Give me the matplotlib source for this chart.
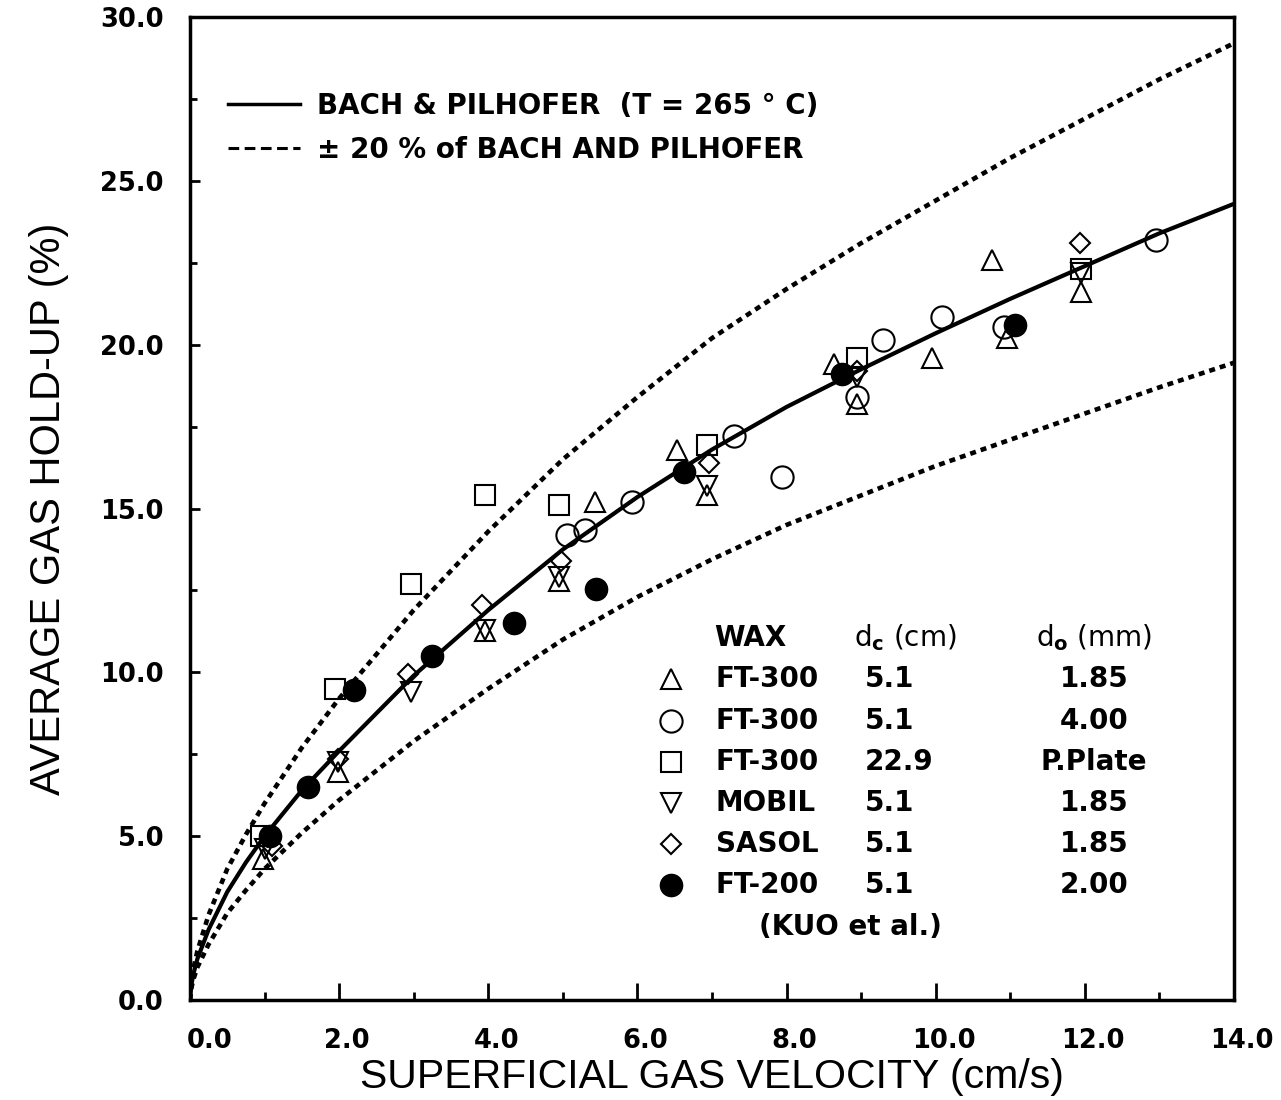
import matplotlib.pyplot as plt
import matplotlib.transforms as mtransforms
from matplotlib.lines import Line2D
from matplotlib.ticker import MultipleLocator

plt.rcParams['font.family'] = ['DejaVu Sans']
plt.rcParams['mathtext.fontset'] = 'custom'
plt.rcParams['mathtext.rm'] = 'DejaVu Sans:bold'
plt.rcParams['mathtext.default'] = 'rm'

# Bach & Pilhofer correlation
u_curve = [0, 0.02, 0.05, 0.1, 0.25, 0.5, 0.75, 1, 1.5, 2, 3, 4, 5, 6, 7, 8, 9,
           10, 11, 12, 13, 14]
bp_mid = [0, 0.48, 0.83, 1.26, 2.15, 3.3, 4.2, 5.0, 6.4, 7.6, 9.9, 11.9, 13.75, 15.35,
          16.8, 18.1, 19.25, 20.35, 21.4, 22.4, 23.4, 24.3]
bp_up = [0, 0.6, 1.0, 1.5, 2.6, 4.0, 5.05, 6.0, 7.7, 9.2, 11.9, 14.3, 16.5, 18.4,
         20.2, 21.7, 23.1, 24.4, 25.7, 26.9, 28.1, 29.2]
bp_low = [0, 0.38, 0.66, 1.0, 1.7, 2.65, 3.35, 4.0, 5.1, 6.1, 7.9, 9.5, 11.0, 12.3,
          13.45, 14.5, 15.4, 16.3, 17.1, 17.9, 18.7, 19.45]

# measured points
tri_up_x = [0.98, 1.98, 3.95, 4.95, 5.43, 6.53, 6.93, 8.63, 8.94, 9.95, 10.75, 10.95, 11.95]
tri_up_y = [4.3, 6.95, 11.25, 12.8, 15.2, 16.8, 15.4, 19.4, 18.2, 19.6, 22.6, 20.2, 21.6]
circ_x = [5.06, 5.3, 5.93, 7.3, 7.94, 8.94, 9.3, 10.08, 10.92, 12.96]
circ_y = [14.2, 14.35, 15.2, 17.2, 15.95, 18.4, 20.15, 20.85, 20.55, 23.2]
sq_x = [0.95, 1.95, 2.96, 3.95, 4.95, 6.93, 8.94, 11.95]
sq_y = [5.0, 9.5, 12.7, 15.4, 15.1, 16.95, 19.6, 22.3]
tri_dn_x = [1.0, 1.98, 2.96, 3.95, 4.95, 6.93, 8.94, 11.95]
tri_dn_y = [4.6, 7.25, 9.4, 11.3, 12.9, 15.7, 19.0, 22.2]
dia_x = [1.1, 1.98, 2.92, 3.92, 4.97, 6.96, 8.94, 11.93]
dia_y = [4.7, 7.35, 9.95, 12.05, 13.4, 16.4, 19.2, 23.1]
ft200_x = [1.07, 1.58, 2.2, 3.25, 4.35, 5.45, 6.63, 8.74, 11.06]
ft200_y = [5.0, 6.5, 9.45, 10.5, 11.5, 12.55, 16.1, 19.1, 20.6]

x_ticks = [0, 2, 4, 6, 8, 10, 12, 14]
wax_names = ['FT-300', 'FT-300', 'FT-300', 'MOBIL', 'SASOL', 'FT-200']
dc_vals = ['5.1', '5.1', '22.9', '5.1', '5.1', '5.1']
do_vals = ['1.85', '4.00', 'P.Plate', '1.85', '1.85', '2.00']

fig = plt.figure(figsize=(12.81, 11.0), dpi=100)
ax = fig.add_axes([0.1483, 0.0909, 0.815, 0.8936])

dash = (0, (1.3, 1.1))
ax.plot(u_curve, bp_up, color='black', lw=3.3, linestyle=dash, zorder=3)
ax.plot(u_curve, bp_low, color='black', lw=3.3, linestyle=dash, zorder=3)
ax.plot(u_curve, bp_mid, color='black', lw=3.0, zorder=4)

mk = dict(linestyle='none', markerfacecolor='none', markeredgecolor='black',
          markeredgewidth=1.5, zorder=5)
ax.plot(tri_up_x, tri_up_y, marker='^', ms=15, **mk)
ax.plot(circ_x, circ_y, marker='o', ms=16, **mk)
ax.plot(sq_x, sq_y, marker='s', ms=15, **mk)
ax.plot(tri_dn_x, tri_dn_y, marker='v', ms=15, **mk)
ax.plot(dia_x, dia_y, marker='D', ms=10.5, **mk)
ax.plot(ft200_x, ft200_y, marker='o', ms=16, linestyle='none', color='black', zorder=6)

ax.set_xlim(0, 14)
ax.set_ylim(0, 30)
ax.set_xticks(x_ticks)
ax.xaxis.set_minor_locator(MultipleLocator(1))
ax.yaxis.set_major_locator(MultipleLocator(5))
ax.yaxis.set_minor_locator(MultipleLocator(2.5))
ax.xaxis.set_major_formatter(plt.FormatStrFormatter('%.1f'))
ax.yaxis.set_major_formatter(plt.FormatStrFormatter('%.1f'))
ax.tick_params(axis='x', which='major', direction='in', length=12, width=2, labelsize=18.5, pad=20)
ax.tick_params(axis='x', which='minor', direction='in', length=6, width=2)
ax.tick_params(axis='y', which='major', direction='in', length=7, width=2, labelsize=18.5, pad=19)
ax.tick_params(axis='y', which='minor', direction='in', length=5, width=2)
for lab in ax.get_xticklabels() + ax.get_yticklabels():
    lab.set_fontweight('bold')
for sp in ax.spines.values():
    sp.set_linewidth(2.5)

# x tick labels sit a little to the right of their ticks in the original
for i, lab in enumerate(ax.get_xticklabels()):
    dx = 20 if i == 0 else 8
    off = mtransforms.ScaledTranslation(dx / 100, 0, fig.dpi_scale_trans)
    lab.set_transform(lab.get_transform() + off)

ax.set_xlabel('SUPERFICIAL GAS VELOCITY (cm/s)', fontsize=29.5, labelpad=3,
              family='Liberation Sans')
ax.set_ylabel('AVERAGE GAS HOLD-UP (%)', fontsize=30, labelpad=22,
              family='Liberation Sans')

handles = [Line2D([], [], color='black', lw=2.5),
           Line2D([], [], color='black', lw=2.2, linestyle=(0, (3.5, 1.8)))]
leg = ax.legend(handles, ['BACH & PILHOFER  (T = 265 ° C)', '± 20 % of BACH AND PILHOFER'],
                loc='upper left', bbox_to_anchor=(0.018, 0.944), frameon=False,
                handlelength=2.6, handletextpad=0.6, labelspacing=0.6,
                borderpad=0.2, prop={'size': 20, 'weight': 'bold'})

# table legend
tfs = 20
row_y = [9.79, 8.53, 7.27, 6.01, 4.75, 3.50]
ax.text(7.03, 11.05, 'WAX', fontsize=tfs, fontweight='bold', va='center', ha='left')
ax.text(8.9, 11.05, r'd$_\mathrm{c}$ (cm)', fontsize=tfs, va='center', ha='left')
ax.text(12.12, 11.05, r'd$_\mathrm{o}$ (mm)', fontsize=tfs, va='center', ha='center')
key_marks = ['^', 'o', 's', 'v', 'D', 'o']
key_ms = [15, 16, 15, 15, 10.5, 16]
for i in range(6):
    if i == 5:
        ax.plot([6.45], [row_y[i]], marker='o', ms=16, color='black', linestyle='none')
    else:
        ax.plot([6.45], [row_y[i]], marker=key_marks[i], ms=key_ms[i], **mk)
    ax.text(7.05, row_y[i], wax_names[i], fontsize=tfs, fontweight='bold', va='center', ha='left')
    ax.text(9.05, row_y[i], dc_vals[i], fontsize=tfs, fontweight='bold', va='center', ha='left')
    ax.text(12.12, row_y[i], do_vals[i], fontsize=tfs, fontweight='bold', va='center', ha='center')
ax.text(8.85, 2.24, '(KUO et al.)', fontsize=tfs, fontweight='bold', va='center', ha='center')

fig.savefig('out.png', dpi=100)
